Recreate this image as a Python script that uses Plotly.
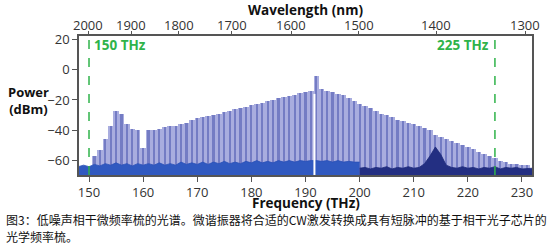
import plotly.graph_objects as go

# ---- data ----
comb_freq = list(range(151, 232))
comb_power = [
    -57, -53, -46, -37, -27, -29, -36, -39, -40, -52,   # 151-160
    -40, -39.5, -39, -38, -37.5, -37, -36, -35, -33, -32,  # 161-170
    -31, -30.5, -30, -29, -28, -27, -26, -25, -24.5, -23.5,  # 171-180
    -22.5, -22, -21, -20, -19, -18, -17.5, -16.5, -15.5, -15,  # 181-190
    -14, -4, -13, -14, -15, -16, -17, -19, -21, -22.5,  # 191-200
    -24, -25.5, -27, -29, -30, -31.5, -33, -34, -35, -36,  # 201-210
    -37, -38.5, -40, -43, -44.5, -46, -47, -48.5, -50, -51,  # 211-220
    -52.5, -54, -55.5, -57, -58.5, -60, -61, -62, -62.5, -63,  # 221-230
    -63,  # 231
]

noise_lo_freq = [148, 149, 150, 151, 152, 153, 154, 155, 156, 157, 158, 159, 160,
                 161, 162, 163, 164, 165, 166, 167, 168, 169, 170, 171, 172, 173,
                 174, 175, 176, 177, 178, 179, 180, 181, 182, 183, 184, 185, 186,
                 187, 188, 189, 190, 191, 192, 193, 194, 195, 196, 197, 198, 199, 200]
noise_lo_power = [-64, -63, -64, -62.5, -63.5, -62, -63, -61.5, -63, -62, -63.5, -62, -63,
                  -62, -63, -61.5, -63, -62, -63, -61, -62.5, -61.5, -62.5, -61, -62.5, -61,
                  -62, -60.5, -62, -61, -62, -60.5, -61.5, -60, -61.5, -60.5, -61.5, -60, -61,
                  -60, -61, -60, -60.5, -60, -60, -60.5, -60, -61, -60, -61, -60.5, -61, -61]

noise_hi_freq = [200, 201, 202, 203, 204, 205, 206, 207, 208, 209, 210, 211, 212, 213,
                 214, 215, 216, 217, 218, 219, 220, 221, 222, 223, 224, 225, 226, 227,
                 228, 229, 230, 231, 232]
noise_hi_power = [-65, -64.5, -65.5, -64.5, -65, -64, -65.5, -64.5, -65, -64, -65, -64.5, -62, -57,
                  -51, -56, -63, -64.5, -65, -64, -65, -64.5, -65.5, -64.5, -65, -64, -65.5, -64.5,
                  -65, -64.5, -65.5, -65, -65]

notch_freq = 191.65
notch_top = -16

marker_freq = [150, 225]
marker_text = ["150 THz", "225 THz"]

wl_ticks = [2000, 1900, 1800, 1700, 1600, 1500, 1400, 1300]
freq_ticks = [150, 160, 170, 180, 190, 200, 210, 220, 230]
power_ticks = [20, 0, -20, -40, -60]

caption = ["图3：低噪声相干微频率梳的光谱。微谐振器将合适的CW激发转换成具有短脉冲的基于相干光子芯片的",
           "光学频率梳。"]

# ---- figure ----
BASE = -75
XR = [148.15, 231.85]
YR = [-69.5, 22.2]
FONT = "Open Sans"
C = 299792.458
wl_pos = [C / w for w in wl_ticks]

fig = go.Figure()

fig.add_trace(go.Bar(x=comb_freq, y=[p - BASE for p in comb_power], base=BASE,
                     width=1.0, marker=dict(color="#a9addf", line=dict(width=0)),
                     showlegend=False, hoverinfo="skip"))
fig.add_trace(go.Bar(x=comb_freq, y=[p - BASE for p in comb_power], base=BASE,
                     width=0.4, marker=dict(color="#747cc4", line=dict(width=0)),
                     showlegend=False, hoverinfo="skip"))

# noise floors
fig.add_trace(go.Scatter(x=[noise_lo_freq[0], noise_lo_freq[-1]], y=[BASE, BASE],
                         mode="lines", line=dict(width=0), showlegend=False, hoverinfo="skip"))
fig.add_trace(go.Scatter(x=noise_lo_freq, y=noise_lo_power, mode="lines",
                         line=dict(width=0.8, color="#2a50b8"), fill="tonexty",
                         fillcolor="#3059c0", showlegend=False, hoverinfo="skip"))
fig.add_trace(go.Scatter(x=[noise_hi_freq[0], noise_hi_freq[-1]], y=[BASE, BASE],
                         mode="lines", line=dict(width=0), showlegend=False, hoverinfo="skip"))
fig.add_trace(go.Scatter(x=noise_hi_freq, y=noise_hi_power, mode="lines",
                         line=dict(width=0.8, color="#1c2878"), fill="tonexty",
                         fillcolor="#232f82", showlegend=False, hoverinfo="skip"))

# notch next to pump
fig.add_trace(go.Scatter(x=[notch_freq, notch_freq], y=[BASE, notch_top], mode="lines",
                         line=dict(color="white", width=2), showlegend=False, hoverinfo="skip"))

# green markers
for f, t in zip(marker_freq, marker_text):
    fig.add_trace(go.Scatter(x=[f, f], y=YR, mode="lines",
                             line=dict(color="#2fb34a", width=1.5, dash="dash"),
                             showlegend=False, hoverinfo="skip"))

# dummy trace for top axis
fig.add_trace(go.Scatter(x=XR, y=[None, None], xaxis="x2", mode="lines",
                         showlegend=False, hoverinfo="skip"))

fig.update_layout(
    width=554, height=252,
    margin=dict(l=79, r=22, t=36, b=77),
    paper_bgcolor="white", plot_bgcolor="white",
    barmode="overlay", bargap=0,
    font=dict(family=FONT, size=13, color="#333"),
    xaxis=dict(range=XR, tickvals=freq_ticks, ticks="outside", ticklen=5,
               tickcolor="#555", showline=True, linecolor="#555", linewidth=1.5,
               mirror=True, showgrid=False, zeroline=False,
               tickfont=dict(size=13, color="#333")),
    xaxis2=dict(range=XR, overlaying="x", side="top", anchor="y",
                tickvals=wl_pos, showticklabels=False,
                ticks="outside", ticklen=4, tickcolor="#555", showgrid=False,
                zeroline=False, showline=False),
    yaxis=dict(range=YR, tickvals=power_ticks, ticks="outside", ticklen=5,
               tickcolor="#555", showline=True, linecolor="#555", linewidth=1.5,
               mirror=True, showgrid=False, zeroline=False,
               tickfont=dict(size=13, color="#333")),
)

W, H = 453.0, 139.0
def px(x):
    return (x - 79) / W
def py(y):
    return (175 - y) / H

ann = []
for pos, w in zip(wl_pos, wl_ticks):
    ann.append(dict(x=pos, y=py(25), xref="x", yref="paper", text=str(w), showarrow=False,
                    font=dict(size=13, color="#333", family=FONT), xanchor="center", yanchor="middle"))
ann.append(dict(x=0.5, y=py(203), xref="paper", yref="paper", text="<b>Frequency (THz)</b>",
                showarrow=False, font=dict(size=13.5, color="#111", family=FONT), xanchor="center", yanchor="middle"))
ann.append(dict(x=0.5, y=py(10), xref="paper", yref="paper", text="<b>Wavelength (nm)</b>",
                showarrow=False, font=dict(size=13.5, color="#111", family=FONT), xanchor="center", yanchor="middle"))
ann.append(dict(x=px(28), y=py(100), xref="paper", yref="paper", text="<b>Power<br>(dBm)</b>",
                showarrow=False, font=dict(size=13, color="#111", family=FONT), xanchor="center", yanchor="middle"))
ann.append(dict(x=marker_freq[0], y=py(45), xref="x", yref="paper", text="<b>" + marker_text[0] + "</b>",
                showarrow=False, font=dict(size=13.5, color="#2fb34a", family=FONT), xanchor="left", yanchor="middle", xshift=3))
ann.append(dict(x=marker_freq[1], y=py(45), xref="x", yref="paper", text="<b>" + marker_text[1] + "</b>",
                showarrow=False, font=dict(size=13.5, color="#2fb34a", family=FONT), xanchor="right", yanchor="middle", xshift=-4))
ann.append(dict(x=px(4), y=py(219), xref="paper", yref="paper", text=caption[0],
                showarrow=False, font=dict(size=12, color="#111", family="Noto Sans CJK SC"), xanchor="left", yanchor="middle"))
ann.append(dict(x=px(4), y=py(236), xref="paper", yref="paper", text=caption[1],
                showarrow=False, font=dict(size=12, color="#111", family="Noto Sans CJK SC"), xanchor="left", yanchor="middle"))
fig.update_layout(annotations=ann)

fig.write_html("out.html")
